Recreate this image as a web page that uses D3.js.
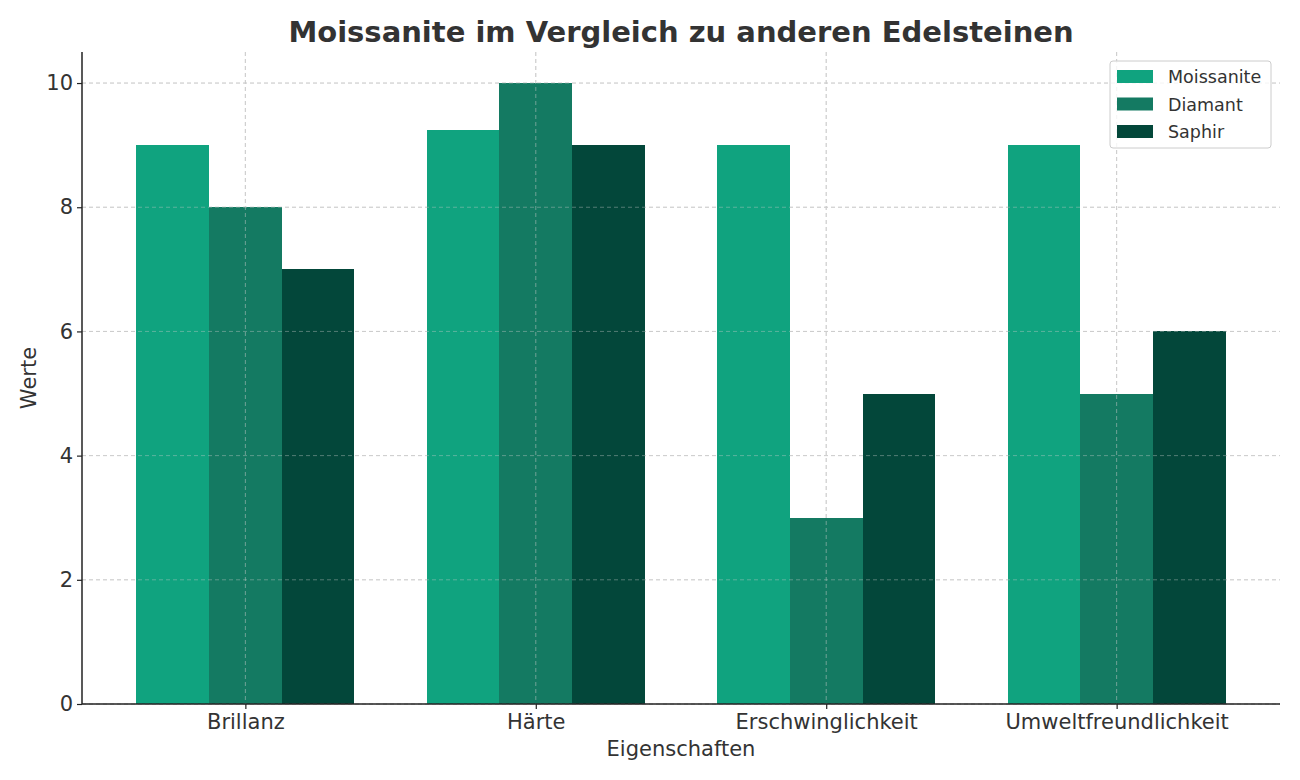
<!DOCTYPE html>
<html><head><meta charset="utf-8">
<script src="https://cdn.jsdelivr.net/npm/d3@7"></script>
<style>body{margin:0;background:#fff;} text{font-family:"DejaVu Sans",sans-serif;fill:#333;}</style>
</head><body>
<svg id="c" width="1300" height="780"></svg>
<script>
const categories = ["Brillanz", "Härte", "Erschwinglichkeit", "Umweltfreundlichkeit"];
const seriesNames = ["Moissanite", "Diamant", "Saphir"];
const moissanite = [9, 9.25, 9, 9];
const diamant = [8, 10, 3, 5];
const saphir = [7, 9, 5, 6];
const yTicks = [0, 2, 4, 6, 8, 10];
const colors = ["#10a37f", "#147a62", "#03473a"];
const series = [moissanite, diamant, saphir];

const svg = d3.select("#c");
const L = 82, R = 1280, T = 52, B = 704;
const x = d3.scaleLinear().domain([-0.5625, 3.5625]).range([L, R]);
const y = d3.scaleLinear().domain([0, 10.5]).range([B, T]);
const bw = 0.25;

// grid
const g = svg.append("g");
yTicks.forEach(t => g.append("line").attr("x1", L).attr("x2", R).attr("y1", y(t)).attr("y2", y(t))
  .attr("stroke", "#ccc").attr("stroke-dasharray", "4,3").attr("stroke-width", 1));
categories.forEach((c, i) => g.append("line").attr("x1", x(i)).attr("x2", x(i)).attr("y1", T).attr("y2", B)
  .attr("stroke", "#ccc").attr("stroke-dasharray", "4,3").attr("stroke-width", 1));

// bars
series.forEach((vals, s) => {
  svg.append("g").selectAll("rect").data(vals).enter().append("rect")
    .attr("x", (d, i) => x(i + (s - 1) * bw - bw / 2))
    .attr("width", x(bw) - x(0))
    .attr("y", d => y(d))
    .attr("height", d => B - y(d))
    .attr("fill", colors[s])
    .attr("shape-rendering", "crispEdges");
});

categories.forEach((c, i) => svg.append("line").attr("x1", x(i)).attr("x2", x(i)).attr("y1", T).attr("y2", B)
  .attr("stroke", "#ccc").attr("stroke-opacity", 0.5).attr("stroke-dasharray", "4,3").attr("stroke-width", 1));
yTicks.forEach(t => svg.append("line").attr("x1", L).attr("x2", R).attr("y1", y(t)).attr("y2", y(t))
  .attr("stroke", "#ccc").attr("stroke-opacity", 0.4).attr("stroke-dasharray", "4,3").attr("stroke-width", 1));

// axes
const xa = svg.append("g").attr("transform", `translate(0,${B})`)
  .call(d3.axisBottom(x).tickValues(categories.map((c, i) => i)).tickFormat(i => categories[i]).tickSize(5).tickPadding(5).tickSizeOuter(0));
const ya = svg.append("g").attr("transform", `translate(${L},0)`)
  .call(d3.axisLeft(y).tickValues(yTicks).tickSize(5).tickPadding(4).tickSizeOuter(0));
[xa, ya].forEach(a => {
  a.select(".domain").attr("stroke", "#222").attr("stroke-width", 1.5);
  a.selectAll(".tick line").attr("stroke", "#222").attr("stroke-width", 1.2);
  a.selectAll("text").style("font-size", "21px").attr("fill", "#333").style("font-family", "DejaVu Sans");
});
xa.select(".domain").attr("d", `M${L},0H${R}`);
ya.select(".domain").attr("d", `M0,${T}V${B}`);

// titles
svg.append("text").attr("x", 681).attr("y", 42).attr("text-anchor", "middle")
  .style("font-size", "29px").style("font-weight", "bold").text("Moissanite im Vergleich zu anderen Edelsteinen");
svg.append("text").attr("x", 681).attr("y", 756).attr("text-anchor", "middle")
  .style("font-size", "21px").text("Eigenschaften");
svg.append("text").attr("transform", "translate(36,378) rotate(-90)").attr("text-anchor", "middle")
  .style("font-size", "21px").text("Werte");

// legend
const lg = svg.append("g").attr("transform", "translate(1110,61)");
lg.append("rect").attr("width", 161).attr("height", 87).attr("rx", 3)
  .attr("fill", "#fff").attr("fill-opacity", 0.8).attr("stroke", "#ccc");
seriesNames.forEach((n, i) => {
  lg.append("rect").attr("x", 7).attr("y", 9 + i * 27.5).attr("width", 36).attr("height", 13).attr("fill", colors[i]);
  lg.append("text").attr("x", 58).attr("y", 22 + i * 27.5).style("font-size", "17.5px").text(n);
});
</script>
</body></html>
